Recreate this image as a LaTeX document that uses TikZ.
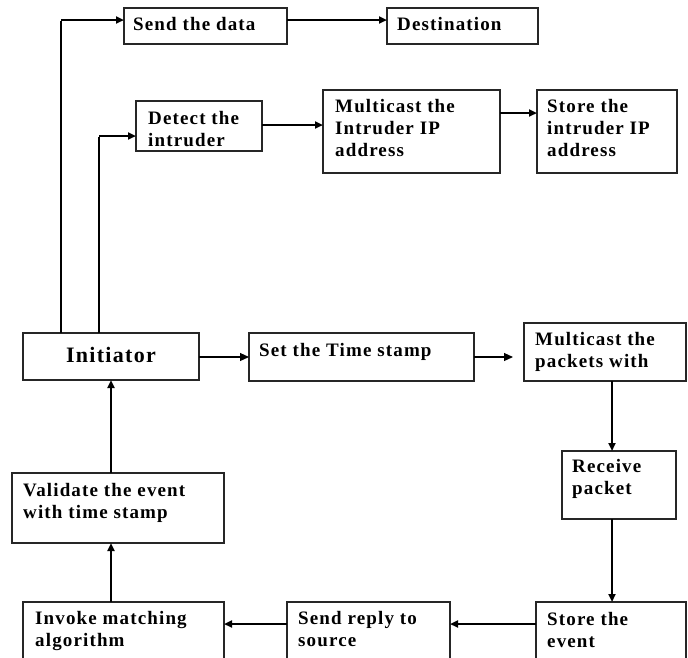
\documentclass[tikz,border=0pt]{standalone}
\usepackage{fontspec}
\setmainfont{Liberation Serif}[LetterSpace=6]
\usetikzlibrary{arrows.meta}
\tikzset{
  box/.style={draw=black!85, line width=1.1pt, anchor=north west, inner sep=0pt, outer sep=0pt},
  txt/.style={anchor=base west, align=left, inner sep=0pt, font=\fontsize{19}{22}\selectfont\bfseries},
  thickarrow/.style={line width=2pt, -{Triangle[length=8pt,width=7pt]}},
  thinarrow/.style={line width=1.1pt, -{Triangle[length=9pt,width=8pt]}},
  thinline/.style={line width=1.2pt},
}
\newcommand{\bx}[5]{%
  \node[box, minimum width={#4-#2}, minimum height={#5-#3}] (#1) at (#2,#3) {};
}
\begin{document}
\begin{tikzpicture}[x=1pt,y=-1pt]
\useasboundingbox (0,0) rectangle (688,657);
\clip (0,0) rectangle (688,657);
% boxes
\bx{snd}{124}{8}{287}{44}
\bx{dst}{387}{8}{538}{44}
\bx{det}{136}{101}{262}{151}
\bx{mci}{323}{90}{500}{173}
\bx{sti}{537}{90}{677}{173}
\bx{init}{23}{333}{199}{380}
\bx{set}{249}{333}{474}{381}
\bx{mcp}{524}{323}{686}{381}
\bx{rcv}{562}{451}{676}{519}
\bx{val}{12}{473}{224}{543}
\bx{inv}{23}{602}{224}{680}
\bx{rep}{287}{602}{450}{680}
\bx{ste}{536}{602}{686}{680}
% texts (anchor = baseline of the last line)
\node[txt] (snd-t) at (133,30) {Send the data};
\node[txt] (dst-t) at (397,30) {Destination};
\node[txt] (det-t) at (148,146) {Detect the\\intruder};
\node[txt] (mci-t) at (335,156) {Multicast the\\Intruder IP\\address};
\node[txt] (sti-t) at (547,156) {Store the\\intruder IP\\address};
\node[anchor=base, inner sep=0pt, font=\fontsize{22}{26}\selectfont\bfseries] (init-t) at (111,362) {Initiator};
\node[txt] (set-t) at (259,356) {Set the Time stamp};
\node[txt] (mcp-t) at (535,367) {Multicast the\\packets with};
\node[txt] (rcv-t) at (572,494) {Receive\\packet};
\node[txt] (val-t) at (23,518) {Validate the event\\with time stamp};
\node[txt] (inv-t) at (35,646) {Invoke matching\\algorithm};
\node[txt] (rep-t) at (298,646) {Send reply to\\source};
\node[txt] (ste-t) at (547,647) {Store the\\event};
% connectors
\coordinate (c1) at (61,20);
\coordinate (c2) at (99,136);
\draw[thinline] (init.north -| c1) -- ([yshift=-1pt]c1);
\draw[thickarrow] (c1) -- (snd.west |- c1);
\draw[thinline] (init.north -| c2) -- ([yshift=-1pt]c2);
\draw[thickarrow] (c2) -- (det.west |- c2);
\draw[thickarrow] (snd.east |- c1) -- (dst.west |- c1);
\coordinate (c3) at (0,125);
\draw[thickarrow] (det.east |- c3) -- (mci.west |- c3);
\coordinate (c4) at (0,113);
\draw[thickarrow] (mci.east |- c4) -- (sti.west |- c4);
\coordinate (c5) at (0,357);
\draw[thinarrow] (init.east |- c5) -- (set.west |- c5);
\draw[thinarrow] (set.east |- c5) -- ([xshift=-11pt]mcp.west |- c5);
\coordinate (c6) at (612,0);
\draw[thickarrow] (mcp.south -| c6) -- (rcv.north -| c6);
\draw[thickarrow] (rcv.south -| c6) -- (ste.north -| c6);
\coordinate (c7) at (0,624);
\draw[thickarrow] (ste.west |- c7) -- (rep.east |- c7);
\draw[thickarrow] (rep.west |- c7) -- (inv.east |- c7);
\coordinate (c8) at (111,0);
\draw[thickarrow] (inv.north -| c8) -- (val.south -| c8);
\draw[thickarrow] (val.north -| c8) -- (init.south -| c8);
\end{tikzpicture}
\end{document}
